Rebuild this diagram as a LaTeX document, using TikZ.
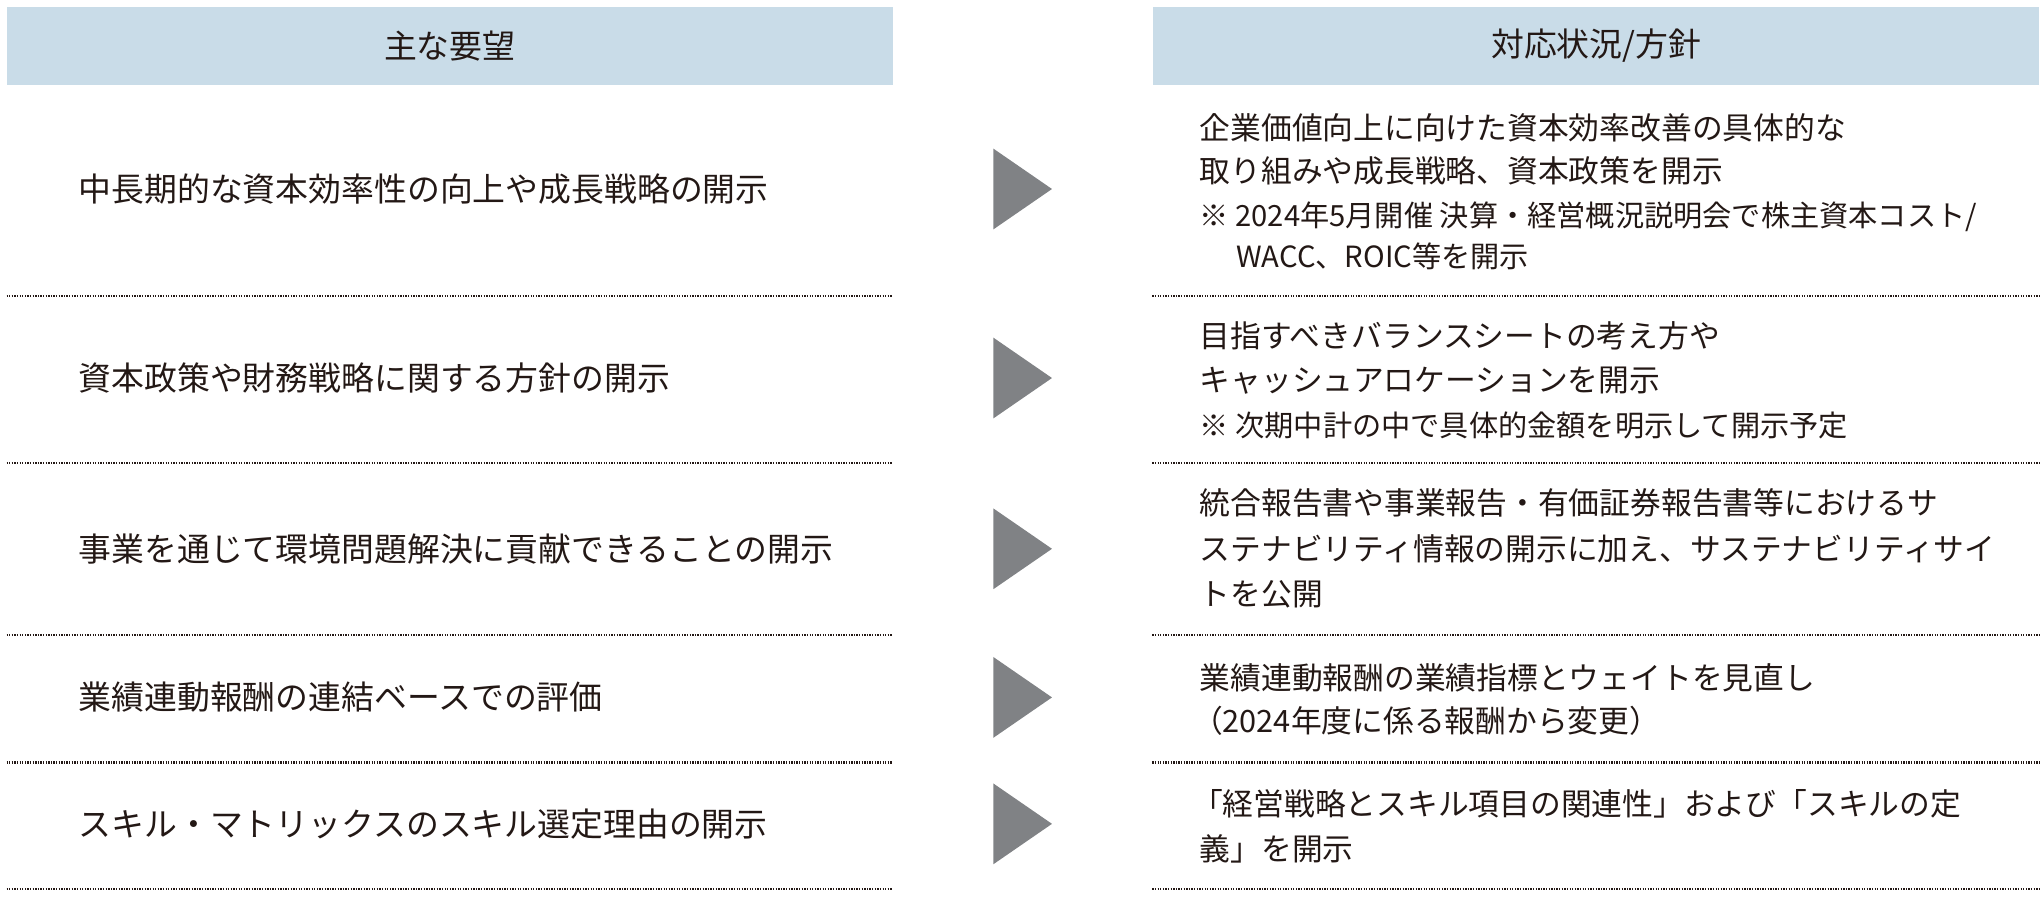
\documentclass[tikz,border=0pt]{standalone}
\usepackage{fontspec}
\setmainfont{Noto Sans CJK JP}
\usetikzlibrary{positioning}
\definecolor{headblue}{HTML}{C9DCE8}
\definecolor{arrowgray}{HTML}{808285}
\definecolor{textdark}{HTML}{231815}
\tikzset{
  head/.style={fill=headblue, minimum width=340pt, minimum height=30pt, inner sep=0pt, text=textdark, font=\fontsize{12.6}{14}\selectfont},
  item/.style={anchor=west, inner sep=0pt, text=textdark, font=\fontsize{12.6}{14}\selectfont},
  reply/.style={anchor=west, inner sep=0pt, text=textdark, font=\fontsize{11.8}{14}\selectfont},
  note/.style={anchor=west, inner sep=0pt, text=textdark, font=\fontsize{11.2}{13}\selectfont},
  sep/.style={textdark, line width=0.9pt, dash pattern=on 0.5pt off 0.5pt}
}
\begin{document}
\begin{tikzpicture}[x=0.5pt, y=-0.5pt]
    \useasboundingbox (0,0) rectangle (1568,688);
    % Headers
    \node[head] (hl) at (345,35) {主な要望};
    \node[head] (hr) at (1224.5,35) {対応状況/方針};

    % Separators
    \foreach \y in {227,355,487,585,682} {
        \draw[sep] (5,\y) -- (685,\y);
        \draw[sep] (884,\y) -- (1565,\y);
    }

    % Arrows
    \foreach \y in {145,290,421,535,632} {
        \fill[arrowgray] (762,\y-31) -- (807,\y) -- (762,\y+31) -- cycle;
    }

    % Requests
    \node[item] (r1) at (60,145) {中長期的な資本効率性の向上や成長戦略の開示};
    \node[item] (r2) at (60,290) {資本政策や財務戦略に関する方針の開示};
    \node[item] (r3) at (60,421) {事業を通じて環境問題解決に貢献できることの開示};
    \node[item] (r4) at (60,535) {業績連動報酬の連結ベースでの評価};
    \node[item] (r5) at (60,632) {スキル・マトリックスのスキル選定理由の開示};

    % Responses
    \node[reply] (a1) at (920,98) {企業価値向上に向けた資本効率改善の具体的な};
    \node[reply] (a1b) at (920,131) {取り組みや成長戦略、資本政策を開示};
    \node[note] (a1c) at (920,166) {※ 2024年5月開催\ 決算・経営概況説明会で株主資本コスト/};
    \node[note] (a1d) at (948,197) {WACC、ROIC等を開示};
    \node[reply] (a2) at (920,258) {目指すべきバランスシートの考え方や};
    \node[reply] (a2b) at (920,292) {キャッシュアロケーションを開示};
    \node[note] (a2c) at (920,326) {※ 次期中計の中で具体的金額を明示して開示予定};
    \node[reply] (a3) at (920,386) {統合報告書や事業報告・有価証券報告書等におけるサ};
    \node[reply] (a3b) at (920,421) {ステナビリティ情報の開示に加え、サステナビリティサイ};
    \node[reply] (a3c) at (920,456) {トを公開};
    \node[reply] (a4) at (920,520) {業績連動報酬の業績指標とウェイトを見直し};
    \node[reply] (a4b) at (914,553) {（2024年度に係る報酬から変更）};
    \node[reply] (a5) at (914,617) {「経営戦略とスキル項目の関連性」および「スキルの定};
    \node[reply] (a5b) at (920,651) {義」を開示};
\end{tikzpicture}
\end{document}
